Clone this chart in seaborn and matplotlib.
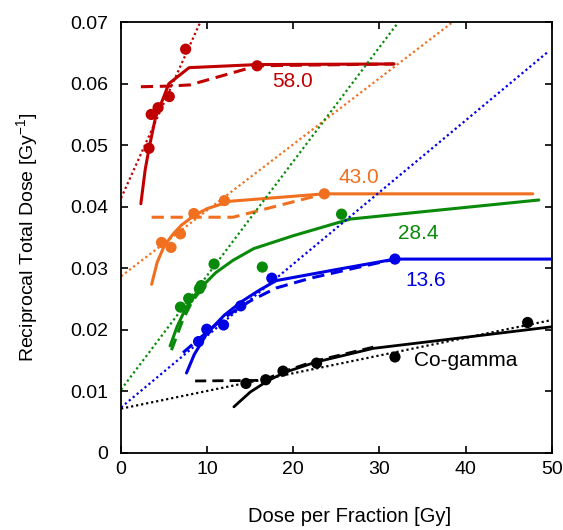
import matplotlib
matplotlib.use("Agg")
import matplotlib.pyplot as plt
import seaborn as sns
import pandas as pd

# ---- data ----
red_pts_x = [3.25, 3.5, 4.3, 5.6, 7.5, 15.8]
red_pts_y = [0.0495, 0.0550, 0.0561, 0.0579, 0.0656, 0.0629]
red_fit_x = [2.3, 2.8, 3.25, 4.0, 5.0, 5.55, 7.9, 15.8, 31.7]
red_fit_y = [0.0405, 0.0460, 0.0495, 0.0545, 0.0580, 0.0600, 0.0626, 0.0631, 0.0632]
red_dash_x = [2.3, 5.6, 8.0, 15.8, 31.7]
red_dash_y = [0.0595, 0.0596, 0.0598, 0.0629, 0.0632]
red_dot_x = [0.0, 9.2]
red_dot_y = [0.0414, 0.0700]

orange_pts_x = [4.7, 5.8, 6.9, 8.45, 12.0, 23.6]
orange_pts_y = [0.0342, 0.0334, 0.0356, 0.0389, 0.0410, 0.0421]
orange_fit_x = [3.55, 4.2, 5.0, 6.0, 7.0, 8.5, 10.0, 12.7, 23.6, 47.8]
orange_fit_y = [0.0274, 0.0310, 0.0336, 0.0355, 0.0370, 0.0386, 0.0397, 0.0409, 0.0421, 0.0421]
orange_dash_x = [3.55, 13.0, 23.6]
orange_dash_y = [0.0383, 0.0383, 0.0421]
orange_dot_x = [0.0, 38.5]
orange_dot_y = [0.0287, 0.0700]

green_pts_x = [6.9, 7.85, 9.1, 9.3, 10.8, 16.4, 25.6]
green_pts_y = [0.0237, 0.0251, 0.0267, 0.0272, 0.0307, 0.0302, 0.0388]
green_fit_x = [5.7, 6.5, 7.5, 9.0, 11.0, 13.0, 15.4, 20.0, 26.6, 48.5]
green_fit_y = [0.0174, 0.0205, 0.0235, 0.0265, 0.0293, 0.0313, 0.0332, 0.0353, 0.0380, 0.0411]
green_dash_x = [5.85, 7.16, 8.2, 9.2]
green_dash_y = [0.0167, 0.0216, 0.0245, 0.0264]
green_dot_x = [0.0, 32.2]
green_dot_y = [0.0103, 0.0700]

blue_pts_x = [9.0, 9.95, 11.9, 13.9, 17.5, 31.8]
blue_pts_y = [0.0181, 0.0201, 0.0208, 0.0239, 0.0284, 0.0315]
blue_fit_x = [7.6, 8.5, 10.0, 12.0, 14.0, 16.0, 18.0, 25.0, 31.8, 50.0]
blue_fit_y = [0.0130, 0.0160, 0.0195, 0.0224, 0.0246, 0.0264, 0.0280, 0.0298, 0.0315, 0.0315]
blue_dash_x = [7.2, 9.0, 12.0, 15.0, 18.0, 22.0, 27.0, 31.8]
blue_dash_y = [0.0163, 0.0185, 0.0220, 0.0247, 0.0268, 0.0284, 0.0300, 0.0315]
blue_dot_x = [0.0, 49.5]
blue_dot_y = [0.0074, 0.0651]

black_pts_x = [14.5, 16.8, 18.8, 22.7, 31.8, 47.2]
black_pts_y = [0.0113, 0.0119, 0.0133, 0.0146, 0.0156, 0.0212]
black_fit_x = [13.1, 15.0, 17.0, 19.0, 22.7, 29.3, 40.0, 50.0]
black_fit_y = [0.0075, 0.0099, 0.0117, 0.0131, 0.0148, 0.0170, 0.0188, 0.0205]
black_dash_x = [8.6, 16.5, 19.0, 22.7, 29.3]
black_dash_y = [0.0117, 0.0118, 0.0133, 0.0150, 0.0172]
black_dot_x = [0.0, 50.0]
black_dot_y = [0.0072, 0.0216]

labels = ["58.0", "43.0", "28.4", "13.6", "Co-gamma"]
label_x = [17.6, 25.2, 32.2, 33.0, 34.0]
label_y = [0.0603, 0.0448, 0.0357, 0.0281, 0.0150]

x_ticks = [0, 10, 20, 30, 40, 50]
y_ticks = [0, 0.01, 0.02, 0.03, 0.04, 0.05, 0.06, 0.07]
y_tick_labels = ["0", "0.01", "0.02", "0.03", "0.04", "0.05", "0.06", "0.07"]

colors = {"red": "#c00000", "orange": "#f07020", "green": "#0a8a0a",
          "blue": "#0000e6", "black": "#000000"}

series = {
    "red": (red_pts_x, red_pts_y, red_fit_x, red_fit_y, red_dash_x, red_dash_y, red_dot_x, red_dot_y),
    "orange": (orange_pts_x, orange_pts_y, orange_fit_x, orange_fit_y, orange_dash_x, orange_dash_y, orange_dot_x, orange_dot_y),
    "green": (green_pts_x, green_pts_y, green_fit_x, green_fit_y, green_dash_x, green_dash_y, green_dot_x, green_dot_y),
    "blue": (blue_pts_x, blue_pts_y, blue_fit_x, blue_fit_y, blue_dash_x, blue_dash_y, blue_dot_x, blue_dot_y),
    "black": (black_pts_x, black_pts_y, black_fit_x, black_fit_y, black_dash_x, black_dash_y, black_dot_x, black_dot_y),
}

sns.set_style("ticks")
plt.rcParams["font.family"] = ["Liberation Sans", "DejaVu Sans"]
plt.rcParams["text.color"] = "black"
plt.rcParams["axes.labelcolor"] = "black"
plt.rcParams["xtick.color"] = "black"
plt.rcParams["ytick.color"] = "black"
plt.rcParams["mathtext.default"] = "regular"

fig = plt.figure(figsize=(5.63, 5.30), dpi=100)
ax = fig.add_axes([0.215, 0.1453, 0.765, 0.813])

for name, (px, py, fx, fy, dx, dy, ox, oy) in series.items():
    c = colors[name]
    lw_main = 2.0 if name == "black" else 2.2
    sns.lineplot(x=ox, y=oy, ax=ax, color=c, lw=1.6, linestyle=(0, (1, 1.3)),
                 sort=False, estimator=None)
    sns.lineplot(x=dx, y=dy, ax=ax, color=c, lw=lw_main, linestyle=(0, (4, 2.2)),
                 sort=False, estimator=None)
    sns.lineplot(x=fx, y=fy, ax=ax, color=c, lw=lw_main, sort=False, estimator=None)
    sns.scatterplot(x=px, y=py, ax=ax, color=c, s=65, edgecolor="none", zorder=5)

text_colors = [colors["red"], colors["orange"], colors["green"], colors["blue"], colors["black"]]
for t, x, y, c in zip(labels, label_x, label_y, text_colors):
    ax.text(x, y, t, color=c, fontsize=15, ha="left", va="center")

ax.set_xlim(0, 50)
ax.set_ylim(0, 0.07)
ax.set_xticks(x_ticks)
ax.set_yticks(y_ticks)
ax.set_yticklabels(y_tick_labels)
ax.tick_params(direction="in", top=True, right=True, length=5, width=1.2,
               labelsize=14, colors="black")
ax.tick_params(axis="y", pad=9)
ax.tick_params(axis="x", pad=6)
for s in ax.spines.values():
    s.set_visible(True)
    s.set_linewidth(1.3)
    s.set_color("black")
ax.set_xlabel("Dose per Fraction [Gy]", fontsize=14.5)
ax.set_ylabel("Reciprocal Total Dose [Gy$^{-1}$]", fontsize=14, labelpad=22)
ax.xaxis.set_label_coords(0.53, -0.125)

fig.savefig("out.png", dpi=100)
